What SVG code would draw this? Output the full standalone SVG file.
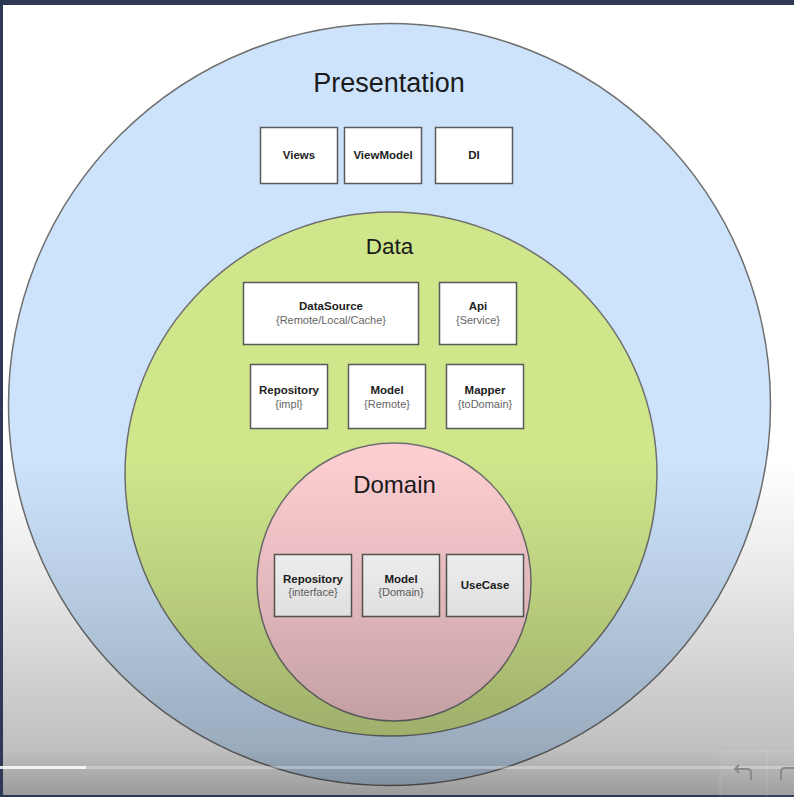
<svg xmlns="http://www.w3.org/2000/svg" width="794" height="797" viewBox="0 0 794 797">
<defs>
<style>
.layer{stroke:#6f6f6f;stroke-width:1.5}
.box{fill:#ffffff;stroke:#5a5a5a;stroke-width:1.5}
.title{font-family:"Liberation Sans",Arial,sans-serif;fill:#1b1b1b;text-anchor:middle}
.t{font-family:"Liberation Sans",Arial,sans-serif;font-weight:bold;font-size:11.5px;fill:#222;text-anchor:middle}
.s{font-family:"Liberation Sans",Arial,sans-serif;font-size:11px;fill:#666;text-anchor:middle}
</style>
<linearGradient id="shade" x1="0" y1="0" x2="0" y2="1">
<stop offset="0" stop-color="#000" stop-opacity="0"/>
<stop offset="0.35" stop-color="#000" stop-opacity="0.09"/>
<stop offset="0.86" stop-color="#000" stop-opacity="0.25"/>
<stop offset="1" stop-color="#000" stop-opacity="0.4"/>
</linearGradient>
</defs>
<rect x="0" y="0" width="794" height="797" fill="#ffffff"/>

<g id="presentation">
<circle class="layer" cx="389.5" cy="404.5" r="381" fill="#cce3fb"/>
<text class="title" x="389" y="92" font-size="27">Presentation</text>
</g>
<g id="views"><rect class="box" x="260.5" y="127.5" width="77" height="56"/><text class="t" x="299" y="159">Views</text></g>
<g id="viewmodel"><rect class="box" x="344.5" y="127.5" width="77" height="56"/><text class="t" x="383" y="159">ViewModel</text></g>
<g id="di"><rect class="box" x="435.5" y="127.5" width="77" height="56"/><text class="t" x="474" y="159">DI</text></g>

<g id="data">
<ellipse class="layer" cx="391" cy="474" rx="266" ry="262" fill="#cfe68b"/>
<text class="title" x="389.5" y="254" font-size="22.5">Data</text>
</g>
<g id="datasource"><rect class="box" x="243.5" y="282.5" width="175" height="62"/><text class="t" x="331" y="310">DataSource</text><text class="s" x="331" y="324">{Remote/Local/Cache}</text></g>
<g id="api"><rect class="box" x="439.5" y="282.5" width="77" height="62"/><text class="t" x="478" y="310">Api</text><text class="s" x="478" y="324">{Service}</text></g>
<g id="repository-impl"><rect class="box" x="250.5" y="364.5" width="77" height="64"/><text class="t" x="289" y="394">Repository</text><text class="s" x="289" y="408">{impl}</text></g>
<g id="model-remote"><rect class="box" x="348.5" y="364.5" width="77" height="64"/><text class="t" x="387" y="394">Model</text><text class="s" x="387" y="408">{Remote}</text></g>
<g id="mapper"><rect class="box" x="446.5" y="364.5" width="77" height="64"/><text class="t" x="485" y="394">Mapper</text><text class="s" x="485" y="408">{toDomain}</text></g>

<g id="domain">
<ellipse class="layer" cx="394" cy="582" rx="137" ry="139" fill="#fccdd1"/>
<text class="title" x="394.5" y="493" font-size="24">Domain</text>
</g>
<g id="repository-interface"><rect class="box" x="274.5" y="554.5" width="77" height="62"/><text class="t" x="313" y="583">Repository</text><text class="s" x="313" y="596">{interface}</text></g>
<g id="model-domain"><rect class="box" x="362.5" y="554.5" width="77" height="62"/><text class="t" x="401" y="583">Model</text><text class="s" x="401" y="596">{Domain}</text></g>
<g id="usecase"><rect class="box" x="446.5" y="554.5" width="77" height="62"/><text class="t" x="485" y="589">UseCase</text></g>

<rect x="0" y="460" width="794" height="337" fill="url(#shade)"/>
<rect x="0" y="0" width="794" height="5" fill="#2e3a55"/>
<rect x="0" y="0" width="3" height="797" fill="#2e3a55"/>
<rect x="0" y="795" width="794" height="2" fill="#2e3a55"/>
<rect x="0" y="766" width="794" height="3" fill="#ffffff" fill-opacity="0.3"/>
<rect x="0" y="766" width="86" height="3" fill="#ffffff" fill-opacity="0.8"/>
<rect x="720" y="751" width="80" height="50" rx="3" fill="#ffffff" fill-opacity="0.05" stroke="#ffffff" stroke-opacity="0.12"/>
<line x1="767" y1="751" x2="767" y2="797" stroke="#ffffff" stroke-opacity="0.12"/>
<path d="M739 773 L735 769 L739 765 M735 769 H747 Q751 769 751 773 V780" fill="none" stroke="#8a8a8a" stroke-width="2"/>
<path d="M781 780 V772 Q781 768 785 768 H794" fill="none" stroke="#8a8a8a" stroke-width="2"/>
</svg>
